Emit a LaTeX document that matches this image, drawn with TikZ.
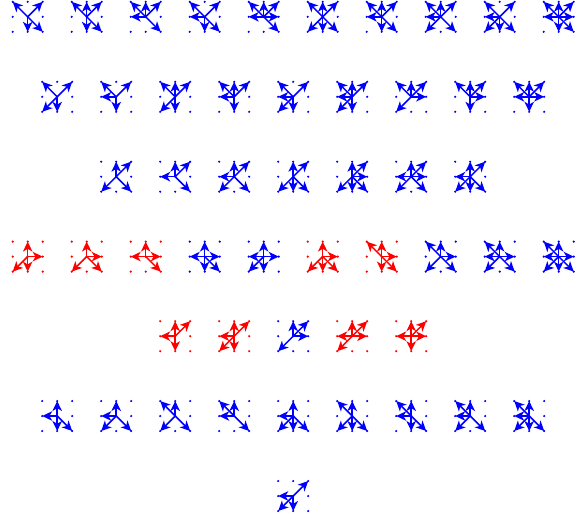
\documentclass[tikz,border=0pt]{standalone}
\usetikzlibrary{arrows.meta}
\tikzset{
  griddot/.style={circle, fill, inner sep=0pt, minimum size=2.4pt},
  quiverarrow/.style={-{Stealth[length=10pt,width=9.5pt,inset=2.8pt]}, line width=1.5pt},
}
% #1 name, #2 x, #3 y, #4 colour, #5 arrow targets
\newcommand{\quiver}[5]{
  \begin{scope}[shift={(#2,#3)}, #4]
    \node[griddot] (#1-C) at (0,0) {};
    \foreach \d/\dx/\dy in {TL/-15/-15, T/0/-15, TR/15/-15, L/-15/0, R/15/0, BL/-15/15, B/0/15, BR/15/15} {
      \node[griddot] (#1-\d) at (\dx,\dy) {};
    }
    \foreach \d in {#5} {
      \draw[quiverarrow] (#1-C.center) -- (#1-\d.center);
    }
  \end{scope}
}
\begin{document}
\begin{tikzpicture}[x=1pt, y=-1pt]
  \useasboundingbox (0,0) rectangle (576,517);
  % first row
  \quiver{a1}{27.7}{16.8}{blue}{TL,TR,B,BR}
  \quiver{a2}{86.7}{16.8}{blue}{TL,T,TR,B,BR}
  \quiver{a3}{145.7}{16.8}{blue}{TL,T,TR,L,BR}
  \quiver{a4}{204.7}{16.8}{blue}{TL,TR,L,B,BR}
  \quiver{a5}{263.7}{16.8}{blue}{TL,T,TR,L,R,BR}
  \quiver{a6}{322.7}{16.8}{blue}{TL,T,TR,BL,B,BR}
  \quiver{a7}{381.7}{16.8}{blue}{TL,T,TR,L,B,BR}
  \quiver{a8}{440.7}{16.8}{blue}{TL,T,TR,L,BL,BR}
  \quiver{a9}{499.7}{16.8}{blue}{TL,TR,L,BL,B,BR}
  \quiver{a10}{558.7}{16.8}{blue}{TL,T,TR,L,R,B,BR}
  % second row
  \quiver{b1}{57.2}{96.8}{blue}{TL,TR,BL,B}
  \quiver{b2}{116.2}{96.8}{blue}{TL,TR,L,B}
  \quiver{b3}{175.2}{96.8}{blue}{TL,T,TR,BL,B}
  \quiver{b4}{234.2}{96.8}{blue}{TL,T,TR,L,B}
  \quiver{b5}{293.2}{96.8}{blue}{TL,TR,L,BL,B}
  \quiver{b6}{352.2}{96.8}{blue}{TL,T,TR,L,BL,B}
  \quiver{b7}{411.2}{96.8}{blue}{TL,T,TR,R,BL}
  \quiver{b8}{470.2}{96.8}{blue}{TL,T,TR,R,B}
  \quiver{b9}{529.2}{96.8}{blue}{TL,T,TR,L,R,B}
  % third row
  \quiver{c1}{116.2}{176.7}{blue}{T,TR,BL,BR}
  \quiver{c2}{175.2}{176.7}{blue}{T,TR,L,BR}
  \quiver{c3}{234.2}{176.7}{blue}{T,TR,L,BL,BR}
  \quiver{c4}{293.2}{176.7}{blue}{T,TR,BL,B,BR}
  \quiver{c5}{352.2}{176.7}{blue}{T,TR,R,BL,B,BR}
  \quiver{c6}{411.2}{176.7}{blue}{T,TR,L,R,BL,BR}
  \quiver{c7}{470.2}{176.7}{blue}{T,TR,L,BL,B,BR}
  % fourth row
  \quiver{d1}{27.7}{256.6}{red}{T,R,BL,B}
  \quiver{d2}{86.7}{256.6}{red}{T,R,BL,BR}
  \quiver{d3}{145.7}{256.6}{red}{T,L,R,BR}
  \quiver{d4}{204.7}{256.6}{blue}{T,L,R,B,BR}
  \quiver{d5}{263.7}{256.6}{blue}{T,L,R,BL,B}
  \quiver{d6}{322.7}{256.6}{red}{T,R,BL,B,BR}
  \quiver{d7}{381.7}{256.6}{red}{TL,T,R,B,BR}
  \quiver{d8}{440.7}{256.6}{blue}{TL,T,R,BL,BR}
  \quiver{d9}{499.7}{256.6}{blue}{TL,T,L,R,BL,BR}
  \quiver{d10}{558.7}{256.6}{blue}{TL,T,L,R,BL,B,BR}
  % fifth row
  \quiver{e1}{175.2}{336.2}{red}{T,TR,L,B}
  \quiver{e2}{234.2}{336.2}{red}{T,TR,L,BL,B}
  \quiver{e3}{293.2}{336.2}{blue}{T,TR,R,BL}
  \quiver{e4}{352.2}{336.2}{red}{T,TR,L,R,BL}
  \quiver{e5}{411.2}{336.2}{red}{T,TR,L,R,B}
  % sixth row
  \quiver{f1}{57.2}{416}{blue}{T,L,B,BR}
  \quiver{f2}{116.2}{416}{blue}{T,L,BL,BR}
  \quiver{f3}{175.2}{416}{blue}{TL,T,BL,BR}
  \quiver{f4}{234.2}{416}{blue}{TL,T,L,BR}
  \quiver{f5}{293.2}{416}{blue}{T,L,BL,B,BR}
  \quiver{f6}{352.2}{416}{blue}{TL,T,BL,B,BR}
  \quiver{f7}{411.2}{416}{blue}{TL,T,L,B,BR}
  \quiver{f8}{470.2}{416}{blue}{TL,T,L,BL,BR}
  \quiver{f9}{529.2}{416}{blue}{TL,T,L,BL,B,BR}
  % last row
  \quiver{g1}{293.2}{496}{blue}{TR,L,BL,B}
\end{tikzpicture}
\end{document}
